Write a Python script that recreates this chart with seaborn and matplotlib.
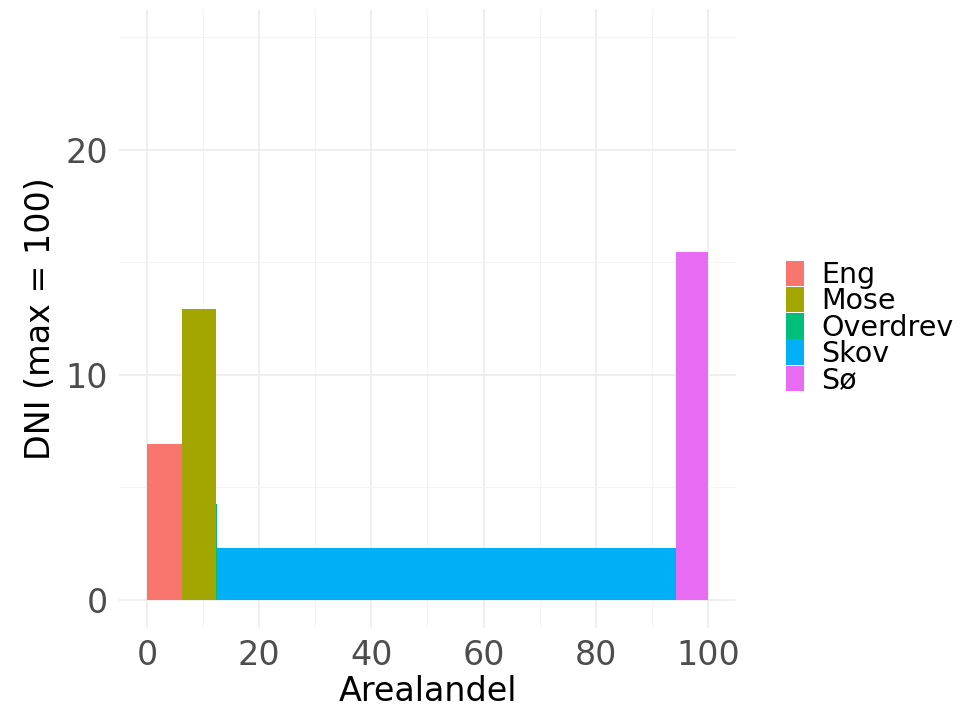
import numpy as np
import matplotlib
matplotlib.use("Agg")
import matplotlib.pyplot as plt
from matplotlib.patches import Patch
from matplotlib.ticker import MultipleLocator
import seaborn as sns

# data
categories = ["Eng", "Mose", "Overdrev", "Skov", "Sø"]
area_share = [6.2, 6.1, 0.25, 81.75, 5.7]      # bar widths (Arealandel, %)
dni_values = [6.92, 12.92, 4.27, 2.30, 15.44]  # bar heights
colors = ["#F8766D", "#A3A500", "#00BF7D", "#00B0F6", "#E76BF3"]

sns.set_theme(style="white")
plt.rcParams["font.family"] = ["DejaVu Sans"]

fig = plt.figure(figsize=(9.73, 7.07), dpi=100)
ax = fig.add_axes([0.1223, 0.1117, 0.6341, 0.8753])

lefts = np.concatenate([[0], np.cumsum(area_share)[:-1]])
ax.bar(lefts, dni_values, width=area_share, align="edge",
       color=colors, linewidth=0, zorder=2)

ax.set_xlim(-5, 105)
ax.set_ylim(-1.25, 26.25)
ax.xaxis.set_major_locator(MultipleLocator(20))
ax.xaxis.set_minor_locator(MultipleLocator(10))
ax.yaxis.set_major_locator(MultipleLocator(10))
ax.yaxis.set_minor_locator(MultipleLocator(5))
ax.grid(which="major", color="#EBEBEB", linewidth=1.1, zorder=0)
ax.grid(which="minor", color="#F3F3F3", linewidth=0.6, zorder=0)
ax.set_axisbelow(True)
for s in ax.spines.values():
    s.set_visible(False)

ax.tick_params(which="both", length=0, labelsize=24, labelcolor="#4D4D4D")
ax.tick_params(axis="x", pad=8)
ax.tick_params(axis="y", pad=8)
ax.set_xlabel("Arealandel", fontsize=24, color="black", labelpad=2)
ax.set_ylabel("DNI (max = 100)", fontsize=24, color="black", labelpad=6)

handles = [Patch(facecolor=c, edgecolor="none", label=l) for c, l in zip(colors, categories)]
leg = fig.legend(handles=handles, loc="center left", bbox_to_anchor=(0.808, 0.537),
                 frameon=False, fontsize=20.5, labelspacing=-0.08, handlelength=0.62,
                 handleheight=1.0, handletextpad=0.6, borderpad=0, borderaxespad=0)
for t in leg.get_texts():
    t.set_color("black")

fig.savefig("out.png", dpi=100)
